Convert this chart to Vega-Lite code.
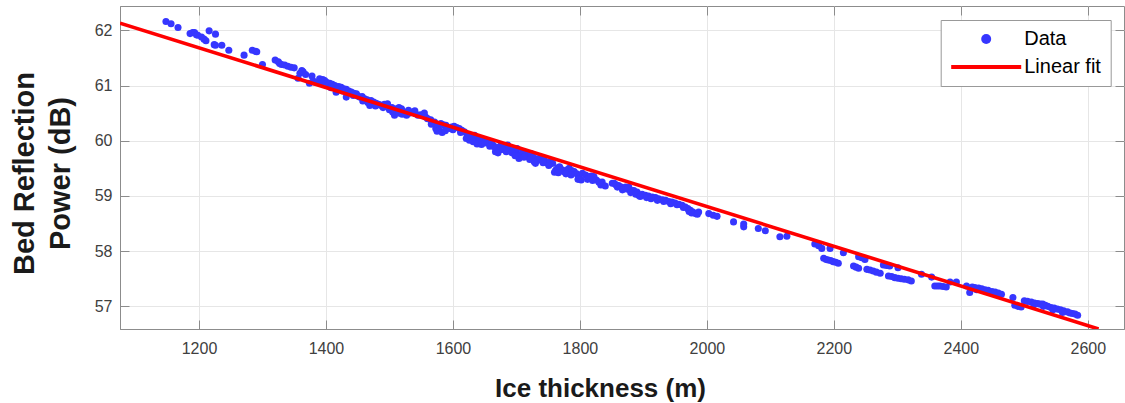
{
  "$schema": "https://vega.github.io/schema/vega-lite/v6.json",
  "width": 1004,
  "height": 323,
  "autosize": {"type": "none"},
  "padding": {"left": 120, "top": 6, "right": 1, "bottom": 74},
  "config": {
    "font": "Liberation Sans",
    "view": {"stroke": "#8c8c8c", "strokeWidth": 1},
    "axis": {
      "gridColor": "#e6e6e6",
      "gridWidth": 1,
      "domainColor": "#8c8c8c",
      "tickColor": "#8c8c8c",
      "tickSize": -9,
      "labelColor": "#404040",
      "labelFontSize": 16,
      "labelFont": "Liberation Sans",
      "titleFont": "Liberation Sans",
      "titleFontWeight": "bold",
      "titleColor": "#1a1a1a"
    }
  },
  "resolve": {"axis": {"x": "independent", "y": "independent"}},
  "layer": [
    {
      "data": {
        "values": [
          {"thickness": 1148, "power": 62.16}, {"thickness": 1156, "power": 62.12}, {"thickness": 1167, "power": 62.05},
          {"thickness": 1186, "power": 61.94}, {"thickness": 1190, "power": 61.96}, {"thickness": 1193, "power": 61.96},
          {"thickness": 1196, "power": 61.92}, {"thickness": 1198, "power": 61.91}, {"thickness": 1204, "power": 61.88},
          {"thickness": 1208, "power": 61.84}, {"thickness": 1211, "power": 61.81}, {"thickness": 1216, "power": 61.99},
          {"thickness": 1226, "power": 61.93}, {"thickness": 1224, "power": 61.74}, {"thickness": 1226, "power": 61.73},
          {"thickness": 1236, "power": 61.73}, {"thickness": 1247, "power": 61.64}, {"thickness": 1271, "power": 61.55},
          {"thickness": 1284, "power": 61.64}, {"thickness": 1289, "power": 61.62}, {"thickness": 1291, "power": 61.61},
          {"thickness": 1300, "power": 61.38}, {"thickness": 1320, "power": 61.46}, {"thickness": 1325, "power": 61.43},
          {"thickness": 1327, "power": 61.40}, {"thickness": 1330, "power": 61.38}, {"thickness": 1335, "power": 61.37},
          {"thickness": 1340, "power": 61.35}, {"thickness": 1345, "power": 61.33}, {"thickness": 1350, "power": 61.32},
          {"thickness": 1356, "power": 61.13}, {"thickness": 1359, "power": 61.22}, {"thickness": 1362, "power": 61.27},
          {"thickness": 1364, "power": 61.25}, {"thickness": 1368, "power": 61.20}, {"thickness": 1374, "power": 61.04},
          {"thickness": 1378, "power": 61.17}, {"thickness": 1380, "power": 61.08}, {"thickness": 1390, "power": 61.12},
          {"thickness": 1395, "power": 61.11}, {"thickness": 1398, "power": 61.09}, {"thickness": 1401, "power": 61.06},
          {"thickness": 1404, "power": 61.02}, {"thickness": 1406, "power": 61.04}, {"thickness": 1410, "power": 61.02},
          {"thickness": 1414, "power": 61.00}, {"thickness": 1416, "power": 60.88}, {"thickness": 1420, "power": 60.98},
          {"thickness": 1424, "power": 60.97}, {"thickness": 1428, "power": 60.94}, {"thickness": 1432, "power": 60.93},
          {"thickness": 1432, "power": 60.79}, {"thickness": 1436, "power": 60.90}, {"thickness": 1440, "power": 60.88},
          {"thickness": 1444, "power": 60.86}, {"thickness": 1448, "power": 60.85}, {"thickness": 1450, "power": 60.81},
          {"thickness": 1453, "power": 60.79}, {"thickness": 1457, "power": 60.80}, {"thickness": 1461, "power": 60.76},
          {"thickness": 1465, "power": 60.74}, {"thickness": 1469, "power": 60.64}, {"thickness": 1471, "power": 60.73},
          {"thickness": 1475, "power": 60.70}, {"thickness": 1479, "power": 60.68}, {"thickness": 1483, "power": 60.66},
          {"thickness": 1487, "power": 60.64}, {"thickness": 1492, "power": 60.66}, {"thickness": 1497, "power": 60.67},
          {"thickness": 1500, "power": 60.56}, {"thickness": 1504, "power": 60.60}, {"thickness": 1508, "power": 60.46},
          {"thickness": 1511, "power": 60.58}, {"thickness": 1515, "power": 60.60}, {"thickness": 1519, "power": 60.58},
          {"thickness": 1523, "power": 60.52}, {"thickness": 1527, "power": 60.46}, {"thickness": 1532, "power": 60.50},
          {"thickness": 1537, "power": 60.52}, {"thickness": 1541, "power": 60.49}, {"thickness": 1545, "power": 60.46},
          {"thickness": 1549, "power": 60.47}, {"thickness": 1553, "power": 60.46}, {"thickness": 1557, "power": 60.43},
          {"thickness": 1560, "power": 60.40}, {"thickness": 1565, "power": 60.38}, {"thickness": 1571, "power": 60.34},
          {"thickness": 1573, "power": 60.22}, {"thickness": 1576, "power": 60.27}, {"thickness": 1579, "power": 60.19},
          {"thickness": 1581, "power": 60.31}, {"thickness": 1585, "power": 60.29}, {"thickness": 1589, "power": 60.28},
          {"thickness": 1592, "power": 60.24}, {"thickness": 1594, "power": 60.22}, {"thickness": 1598, "power": 60.25},
          {"thickness": 1602, "power": 60.26}, {"thickness": 1606, "power": 60.24}, {"thickness": 1610, "power": 60.22},
          {"thickness": 1614, "power": 60.19}, {"thickness": 1618, "power": 60.16}, {"thickness": 1621, "power": 60.04},
          {"thickness": 1623, "power": 60.09}, {"thickness": 1626, "power": 60.01}, {"thickness": 1630, "power": 60.07},
          {"thickness": 1634, "power": 60.10}, {"thickness": 1637, "power": 60.06}, {"thickness": 1639, "power": 60.04},
          {"thickness": 1641, "power": 60.00}, {"thickness": 1644, "power": 59.98}, {"thickness": 1648, "power": 60.01},
          {"thickness": 1652, "power": 60.01}, {"thickness": 1656, "power": 59.98}, {"thickness": 1660, "power": 59.95},
          {"thickness": 1663, "power": 59.92}, {"thickness": 1665, "power": 59.89}, {"thickness": 1669, "power": 59.88},
          {"thickness": 1673, "power": 59.83}, {"thickness": 1676, "power": 59.92}, {"thickness": 1680, "power": 59.90},
          {"thickness": 1686, "power": 59.92}, {"thickness": 1688, "power": 59.87}, {"thickness": 1691, "power": 59.83},
          {"thickness": 1695, "power": 59.84}, {"thickness": 1699, "power": 59.80}, {"thickness": 1701, "power": 59.86},
          {"thickness": 1704, "power": 59.68}, {"thickness": 1707, "power": 59.75}, {"thickness": 1710, "power": 59.80},
          {"thickness": 1713, "power": 59.75}, {"thickness": 1717, "power": 59.71}, {"thickness": 1720, "power": 59.74},
          {"thickness": 1723, "power": 59.77}, {"thickness": 1727, "power": 59.70}, {"thickness": 1730, "power": 59.59},
          {"thickness": 1733, "power": 59.64}, {"thickness": 1736, "power": 59.68}, {"thickness": 1740, "power": 59.66},
          {"thickness": 1744, "power": 59.65}, {"thickness": 1746, "power": 59.61}, {"thickness": 1749, "power": 59.59},
          {"thickness": 1753, "power": 59.62}, {"thickness": 1757, "power": 59.59}, {"thickness": 1762, "power": 59.47},
          {"thickness": 1765, "power": 59.51}, {"thickness": 1768, "power": 59.53}, {"thickness": 1771, "power": 59.48},
          {"thickness": 1775, "power": 59.44}, {"thickness": 1779, "power": 59.47}, {"thickness": 1783, "power": 59.50},
          {"thickness": 1787, "power": 59.46}, {"thickness": 1791, "power": 59.44}, {"thickness": 1795, "power": 59.40},
          {"thickness": 1799, "power": 59.32}, {"thickness": 1804, "power": 59.41}, {"thickness": 1809, "power": 59.38},
          {"thickness": 1814, "power": 59.35}, {"thickness": 1818, "power": 59.36}, {"thickness": 1822, "power": 59.35},
          {"thickness": 1826, "power": 59.29}, {"thickness": 1830, "power": 59.25}, {"thickness": 1835, "power": 59.25},
          {"thickness": 1851, "power": 59.23}, {"thickness": 1854, "power": 59.23}, {"thickness": 1859, "power": 59.16},
          {"thickness": 1861, "power": 59.19}, {"thickness": 1865, "power": 59.16}, {"thickness": 1869, "power": 59.13},
          {"thickness": 1872, "power": 59.16}, {"thickness": 1877, "power": 59.16}, {"thickness": 1882, "power": 59.10},
          {"thickness": 1885, "power": 59.10}, {"thickness": 1890, "power": 59.07}, {"thickness": 1893, "power": 59.01},
          {"thickness": 1898, "power": 59.03}, {"thickness": 1903, "power": 59.01}, {"thickness": 1908, "power": 59.00},
          {"thickness": 1914, "power": 58.98}, {"thickness": 1919, "power": 58.97}, {"thickness": 1924, "power": 58.95},
          {"thickness": 1930, "power": 58.93}, {"thickness": 1935, "power": 58.92}, {"thickness": 1940, "power": 58.90},
          {"thickness": 1945, "power": 58.89}, {"thickness": 1950, "power": 58.87}, {"thickness": 1956, "power": 58.85},
          {"thickness": 1961, "power": 58.83}, {"thickness": 1966, "power": 58.80}, {"thickness": 1970, "power": 58.77},
          {"thickness": 1974, "power": 58.74}, {"thickness": 1978, "power": 58.71}, {"thickness": 1982, "power": 58.68},
          {"thickness": 1987, "power": 58.71}, {"thickness": 2003, "power": 58.68}, {"thickness": 2010, "power": 58.65},
          {"thickness": 2016, "power": 58.63}, {"thickness": 2042, "power": 58.53}, {"thickness": 2058, "power": 58.49},
          {"thickness": 2058, "power": 58.44}, {"thickness": 2081, "power": 58.41}, {"thickness": 2092, "power": 58.37},
          {"thickness": 2115, "power": 58.26}, {"thickness": 2126, "power": 58.27}, {"thickness": 2170, "power": 58.13},
          {"thickness": 2176, "power": 58.10}, {"thickness": 2181, "power": 58.05}, {"thickness": 2184, "power": 57.87},
          {"thickness": 2188, "power": 57.85}, {"thickness": 2191, "power": 57.84}, {"thickness": 2195, "power": 57.83},
          {"thickness": 2194, "power": 58.05}, {"thickness": 2199, "power": 57.81}, {"thickness": 2203, "power": 57.80},
          {"thickness": 2207, "power": 57.78}, {"thickness": 2215, "power": 57.97}, {"thickness": 2231, "power": 57.73},
          {"thickness": 2235, "power": 57.71}, {"thickness": 2239, "power": 57.69}, {"thickness": 2239, "power": 57.90},
          {"thickness": 2244, "power": 57.88}, {"thickness": 2249, "power": 57.85}, {"thickness": 2252, "power": 57.67},
          {"thickness": 2257, "power": 57.66}, {"thickness": 2262, "power": 57.64}, {"thickness": 2267, "power": 57.62},
          {"thickness": 2273, "power": 57.60}, {"thickness": 2278, "power": 57.75}, {"thickness": 2283, "power": 57.74},
          {"thickness": 2288, "power": 57.73}, {"thickness": 2286, "power": 57.55}, {"thickness": 2291, "power": 57.54},
          {"thickness": 2296, "power": 57.52}, {"thickness": 2301, "power": 57.70}, {"thickness": 2301, "power": 57.51},
          {"thickness": 2306, "power": 57.50}, {"thickness": 2311, "power": 57.49}, {"thickness": 2317, "power": 57.48},
          {"thickness": 2322, "power": 57.46}, {"thickness": 2338, "power": 57.58}, {"thickness": 2354, "power": 57.53},
          {"thickness": 2359, "power": 57.37}, {"thickness": 2363, "power": 57.37}, {"thickness": 2367, "power": 57.37},
          {"thickness": 2372, "power": 57.36}, {"thickness": 2377, "power": 57.35}, {"thickness": 2383, "power": 57.44},
          {"thickness": 2393, "power": 57.44}, {"thickness": 2409, "power": 57.37}, {"thickness": 2414, "power": 57.25},
          {"thickness": 2418, "power": 57.35}, {"thickness": 2422, "power": 57.34}, {"thickness": 2428, "power": 57.33},
          {"thickness": 2433, "power": 57.32}, {"thickness": 2438, "power": 57.30}, {"thickness": 2443, "power": 57.29},
          {"thickness": 2449, "power": 57.27}, {"thickness": 2454, "power": 57.26}, {"thickness": 2459, "power": 57.24},
          {"thickness": 2464, "power": 57.22}, {"thickness": 2482, "power": 57.16}, {"thickness": 2485, "power": 57.02},
          {"thickness": 2490, "power": 57.00}, {"thickness": 2495, "power": 56.99}, {"thickness": 2500, "power": 57.10},
          {"thickness": 2505, "power": 57.09}, {"thickness": 2511, "power": 57.08}, {"thickness": 2516, "power": 57.06},
          {"thickness": 2521, "power": 57.05}, {"thickness": 2525, "power": 57.04}, {"thickness": 2529, "power": 57.04},
          {"thickness": 2533, "power": 57.02}, {"thickness": 2537, "power": 57.00}, {"thickness": 2542, "power": 56.98},
          {"thickness": 2547, "power": 56.97}, {"thickness": 2552, "power": 56.95}, {"thickness": 2557, "power": 56.94},
          {"thickness": 2562, "power": 56.92}, {"thickness": 2568, "power": 56.90}, {"thickness": 2572, "power": 56.88},
          {"thickness": 2576, "power": 56.87}, {"thickness": 2580, "power": 56.86}, {"thickness": 2584, "power": 56.84},
          {"thickness": 1383, "power": 61.06}, {"thickness": 1393, "power": 61.04}, {"thickness": 1408, "power": 60.96},
          {"thickness": 1418, "power": 60.93}, {"thickness": 1426, "power": 60.90}, {"thickness": 1443, "power": 60.82},
          {"thickness": 1458, "power": 60.72}, {"thickness": 1466, "power": 60.69}, {"thickness": 1478, "power": 60.63},
          {"thickness": 1490, "power": 60.60}, {"thickness": 1505, "power": 60.52}, {"thickness": 1515, "power": 60.50},
          {"thickness": 1520, "power": 60.48}, {"thickness": 1530, "power": 60.55}, {"thickness": 1540, "power": 60.54},
          {"thickness": 1555, "power": 60.50}, {"thickness": 1566, "power": 60.30}, {"thickness": 1575, "power": 60.17},
          {"thickness": 1583, "power": 60.15}, {"thickness": 1588, "power": 60.18}, {"thickness": 1600, "power": 60.20},
          {"thickness": 1612, "power": 60.15}, {"thickness": 1625, "power": 60.06}, {"thickness": 1632, "power": 59.98},
          {"thickness": 1638, "power": 59.94}, {"thickness": 1645, "power": 59.93}, {"thickness": 1650, "power": 59.96},
          {"thickness": 1658, "power": 59.90}, {"thickness": 1667, "power": 59.80}, {"thickness": 1671, "power": 59.78},
          {"thickness": 1678, "power": 59.84}, {"thickness": 1684, "power": 59.80}, {"thickness": 1693, "power": 59.78},
          {"thickness": 1698, "power": 59.73}, {"thickness": 1712, "power": 59.70}, {"thickness": 1721, "power": 59.66},
          {"thickness": 1728, "power": 59.62}, {"thickness": 1742, "power": 59.60}, {"thickness": 1751, "power": 59.55},
          {"thickness": 1760, "power": 59.43}, {"thickness": 1766, "power": 59.42}, {"thickness": 1778, "power": 59.40},
          {"thickness": 1786, "power": 59.38}, {"thickness": 1797, "power": 59.30}, {"thickness": 1802, "power": 59.29},
          {"thickness": 1812, "power": 59.30}, {"thickness": 1820, "power": 59.28}, {"thickness": 1833, "power": 59.20},
          {"thickness": 1840, "power": 59.18}, {"thickness": 1857, "power": 59.20}, {"thickness": 1867, "power": 59.11},
          {"thickness": 1875, "power": 59.12}, {"thickness": 1880, "power": 59.06}, {"thickness": 1888, "power": 59.03},
          {"thickness": 1895, "power": 58.99}, {"thickness": 1905, "power": 58.97}, {"thickness": 1912, "power": 58.95},
          {"thickness": 1922, "power": 58.92}, {"thickness": 1932, "power": 58.90}, {"thickness": 1943, "power": 58.86},
          {"thickness": 1953, "power": 58.84}, {"thickness": 1963, "power": 58.79}, {"thickness": 1972, "power": 58.72},
          {"thickness": 1976, "power": 58.69}, {"thickness": 1985, "power": 58.67}, {"thickness": 2425, "power": 57.30},
          {"thickness": 2440, "power": 57.27}, {"thickness": 2452, "power": 57.23}, {"thickness": 2515, "power": 57.03},
          {"thickness": 2530, "power": 57.00}, {"thickness": 2545, "power": 56.94}, {"thickness": 2560, "power": 56.89}
        ]
      },
      "mark": {"type": "circle", "size": 50, "opacity": 1},
      "encoding": {
        "x": {
          "field": "thickness",
          "type": "quantitative",
          "scale": {"domain": [1075.6, 2657], "nice": false, "zero": false},
          "axis": {
            "title": "Ice thickness (m)",
            "titleFontSize": 26,
            "titleX": 480,
            "titleY": 67,
            "titleBaseline": "alphabetic",
            "titleAnchor": null,
            "values": [1200, 1400, 1600, 1800, 2000, 2200, 2400, 2600],
            "format": "d",
            "labelPadding": 20,
            "labelFlush": false
          }
        },
        "y": {
          "field": "power",
          "type": "quantitative",
          "scale": {"domain": [56.59, 62.44], "nice": false, "zero": false},
          "axis": {
            "title": ["Bed Reflection", "Power (dB)"],
            "titleFontSize": 29,
            "titleLineHeight": 36.7,
            "titleX": -86.7,
            "titleY": 167,
            "titleAngle": 270,
            "titleAlign": "center",
            "titleBaseline": "alphabetic",
            "values": [57, 58, 59, 60, 61, 62],
            "format": "d",
            "labelPadding": 17,
            "labelFlush": false
          }
        },
        "color": {
          "datum": "Data",
          "scale": {"domain": ["Data", "Linear fit"], "range": ["#3636ff", "#ff0000"]},
          "legend": {
            "title": null,
            "orient": "none",
            "legendX": 820.7,
            "legendY": 14,
            "fillColor": "#ffffff",
            "strokeColor": "#999999",
            "padding": 9,
            "rowPadding": 8,
            "symbolSize": 100,
            "symbolOffset": 26.5,
            "labelOffset": 28,
            "labelFontSize": 20,
            "labelFont": "Liberation Sans",
            "labelColor": "#000000",
            "symbolStrokeWidth": 0,
            "symbolType": {"expr": "datum.value === 'Data' ? 'circle' : 'M-7,-0.4H7V0.4H-7Z'"},
            "encode": {
              "symbols": {
                "update": {
                  "fill": {"signal": "datum.value === 'Data' ? '#3636ff' : '#ff0000'"},
                  "opacity": {"value": 1}
                }
              }
            }
          }
        }
      }
    },
    {
      "data": {
        "values": [
          {"thickness": 1075.6, "power": 62.13},
          {"thickness": 2617, "power": 56.59}
        ]
      },
      "mark": {"type": "line", "strokeWidth": 3.6, "clip": true},
      "encoding": {
        "x": {
          "field": "thickness",
          "type": "quantitative",
          "axis": {
            "orient": "top",
            "labels": false,
            "title": null,
            "grid": false,
            "domain": false,
            "values": [1200, 1400, 1600, 1800, 2000, 2200, 2400, 2600]
          }
        },
        "y": {
          "field": "power",
          "type": "quantitative",
          "axis": {
            "orient": "right",
            "labels": false,
            "title": null,
            "grid": false,
            "domain": false,
            "values": [57, 58, 59, 60, 61, 62]
          }
        },
        "color": {"datum": "Linear fit"}
      }
    }
  ]
}
